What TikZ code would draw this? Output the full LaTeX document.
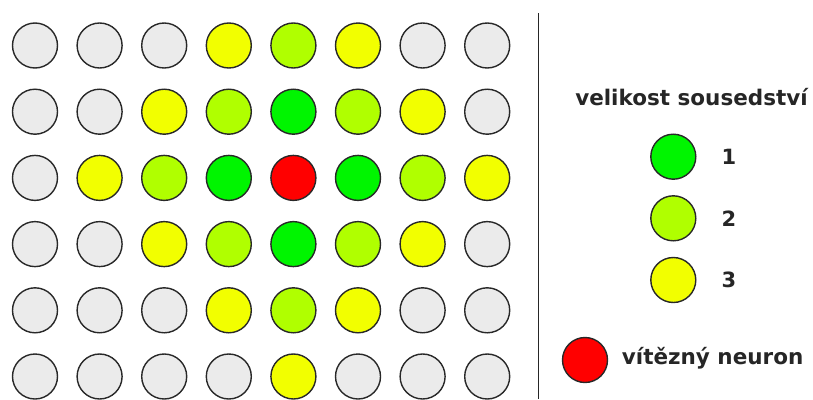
\documentclass[tikz,border=0pt]{standalone}
\usepackage{fontspec}
\setmainfont{DejaVu Sans}
\definecolor{cgray}{RGB}{235,235,235}
\definecolor{cyel}{RGB}{242,255,0}
\definecolor{clime}{RGB}{176,255,0}
\definecolor{cgreen}{RGB}{0,245,0}
\definecolor{cred}{RGB}{255,0,0}
\definecolor{cedge}{RGB}{40,40,40}
\tikzset{
  neuron/.style={circle,draw=cedge,line width=1.4pt,minimum size=45pt,inner sep=0pt},
  lbl/.style={font=\bfseries\fontsize{21.5}{24}\selectfont,text=black!85,inner sep=0pt},
  num/.style={font=\bfseries\fontsize{21}{24}\selectfont,text=black!85,inner sep=0pt}
}
\begin{document}
\begin{tikzpicture}[x=1pt,y=-1pt]
\useasboundingbox (0,0) rectangle (813,399);
\def\colmap{{"cgray","cyel","clime","cgreen","cred"}}
% rows of color codes: 0 gray,1 yellow,2 lime,3 green,4 red
\foreach \row/\codes in {0/{0,0,0,1,2,1,0,0},1/{0,0,1,2,3,2,1,0},2/{0,1,2,3,4,3,2,1},3/{0,0,1,2,3,2,1,0},4/{0,0,0,1,2,1,0,0},5/{0,0,0,0,1,0,0,0}}{
  \foreach \c [count=\col from 0] in \codes {
    \pgfmathsetmacro{\fc}{\colmap[\c]}
    \node[neuron,fill=\fc] (n\row\col) at ({35+64.6*\col},{45.5+66.2*\row}) {};
  }
}
\coordinate (ltop) at (538.3,13);
\coordinate (lbot) at (538.3,399);
\draw[line width=1.6pt,black!85] (ltop) -- (lbot);
\node[lbl,anchor=base] (title) at (691.5,105) {velikost sousedství};
\node[neuron,fill=cgreen] (l1) at (673.3,156.7) {};
\node[neuron,fill=clime] (l2) at (673.3,218.3) {};
\node[neuron,fill=cyel] (l3) at (673.3,280) {};
\node[num] (t1) at (729,156.7) {1};
\node[num] (t2) at (729,218.3) {2};
\node[num] (t3) at (729,280) {3};
\node[neuron,fill=cred] (lr) at (585,360) {};
\node[lbl,anchor=base west] (tr) at (621.7,364) {vítězný neuron};
\end{tikzpicture}
\end{document}
